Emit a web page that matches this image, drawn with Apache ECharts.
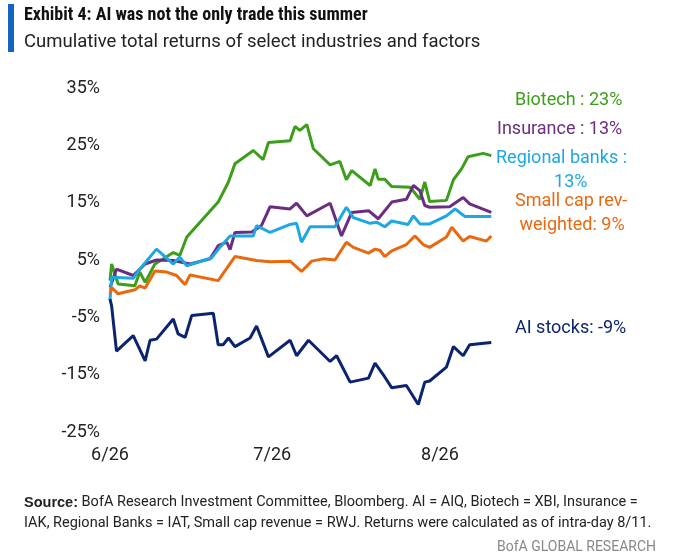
<!DOCTYPE html>
<html lang="en">
<head>
<meta charset="UTF-8">
<title>Exhibit 4</title>
<style>
  body { margin: 0; background: #fff; }
  #container { width: 682px; height: 556px; }
</style>
</head>
<body>
<div id="container"></div>
<script src="https://cdn.jsdelivr.net/npm/echarts@6/dist/echarts.min.js"></script>
<script>
    // x = days since 6/26
    var xTicks = [0, 30, 61];
    var xTickLabels = ['6/26', '7/26', '8/26'];

    var biotech = [[0,1.4],[0.3,4.3],[1.5,0.8],[4.6,0.5],[5.5,2.9],[6.5,1.1],[8.3,4.3],[11.7,6.3],[12.9,5.8],[14.2,9.0],[20.0,15.1],[21.9,18.6],[23.1,21.8],[26.5,24.1],[28.3,22.5],[29.3,25.5],[33.3,25.8],[34.2,28.3],[35.1,27.6],[36.4,28.6],[37.6,24.4],[40.7,21.6],[42.5,22.2],[43.7,19.0],[44.7,20.6],[48.1,18.0],[49.0,20.9],[49.6,19.1],[50.8,19.1],[52.1,17.8],[55.5,17.7],[57.3,15.6],[58.2,18.6],[59.1,15.2],[62.2,15.4],[63.5,19.0],[65.0,20.9],[66.2,23.0],[69.0,23.6],[70.5,23.2]];
    var insurance = [[0,0.2],[1.2,3.4],[4.3,2.3],[6.5,4.3],[8.6,5.0],[11.7,4.9],[14.8,4.3],[18.5,5.2],[20.0,7.5],[21.6,8.1],[22.2,6.8],[23.1,9.8],[26.2,9.9],[28.0,11.0],[29.6,14.3],[33.3,13.9],[34.5,14.9],[36.4,12.7],[40.7,14.9],[42.8,9.2],[44.7,13.3],[47.8,13.6],[49.6,12.2],[52.1,15.1],[54.8,15.6],[56.1,18.0],[57.3,17.1],[58.2,14.5],[59.1,14.2],[62.8,14.3],[65.3,15.9],[66.5,14.8],[70.5,13.3]];
    var regionalBanks = [[0,-2.0],[0.3,2.0],[4.3,1.8],[5.5,3.4],[8.6,6.9],[11.7,4.3],[12.9,5.5],[14.2,4.0],[18.8,5.4],[20.3,7.2],[22.2,9.2],[26.5,9.2],[27.1,11.0],[29.6,9.8],[33.3,11.2],[34.5,11.4],[35.4,8.1],[37.0,10.8],[41.6,10.8],[43.7,14.2],[45.0,12.4],[48.1,11.4],[49.3,11.6],[50.8,10.8],[52.1,11.8],[55.1,11.2],[56.1,12.7],[57.3,11.3],[59.1,11.3],[62.2,12.7],[63.8,13.9],[65.6,12.6],[70.5,12.6]];
    var smallCap = [[0,-0.9],[0.3,0.2],[1.5,-0.9],[4.6,-0.2],[5.5,0.5],[6.5,0.1],[8.3,3.1],[10.5,2.9],[12.3,2.3],[13.9,0.7],[14.8,2.4],[20.0,1.4],[23.1,5.6],[27.1,4.9],[29.6,4.7],[33.3,4.8],[35.4,3.0],[37.3,4.8],[39.4,5.2],[41.6,5.0],[43.7,8.1],[45.0,7.2],[47.8,6.2],[49.0,6.9],[49.9,6.7],[50.8,5.6],[52.1,6.6],[54.8,7.7],[56.4,9.2],[57.9,7.7],[59.1,7.2],[62.2,9.0],[63.2,10.7],[65.3,8.3],[66.5,9.1],[69.6,8.3],[70.5,9.2]];
    var aiStocks = [[0,-1.8],[0.3,-3.0],[1.2,-10.9],[4.3,-8.2],[6.5,-12.6],[7.4,-9.0],[8.6,-8.8],[11.7,-5.3],[12.6,-7.9],[13.9,-8.5],[15.1,-4.7],[19.1,-4.3],[20.0,-9.8],[20.9,-9.8],[21.9,-8.6],[23.1,-10.1],[25.9,-8.6],[27.1,-6.5],[29.3,-11.9],[33.3,-9.0],[34.5,-11.7],[36.7,-9.0],[40.7,-12.7],[41.9,-11.7],[44.4,-16.3],[47.8,-15.6],[49.0,-13.0],[50.8,-15.4],[52.1,-17.3],[54.8,-16.9],[57.0,-20.2],[58.2,-16.3],[59.1,-16.1],[62.2,-13.7],[63.5,-10.1],[65.3,-11.7],[66.5,-9.8],[70.5,-9.4]];

    var ec = echarts.init(document.querySelector('#container'));

    function line(name, data, color) {
        return { name: name, type: 'line', data: data, showSymbol: false,
                 lineStyle: { width: 3, color: color }, itemStyle: { color: color } };
    }
    function label(x, y, lines, color) {
        return { type: 'text', left: x, top: y,
                 style: { text: lines, fill: color, font: '18px "Roboto", sans-serif', lineHeight: 24 } };
    }

    var option = {
        backgroundColor: '#fff',
        animation: false,
        grid: { left: 110, right: 188, top: 88, bottom: 124 },
        xAxis: {
            type: 'value', min: 0, max: 71,
            axisLine: { show: false }, axisTick: { show: false }, splitLine: { show: false },
            axisLabel: {
                customValues: xTicks, margin: 14, color: '#222', fontSize: 18, fontFamily: 'Roboto',
                formatter: function (v) { return xTickLabels[xTicks.indexOf(v)]; }
            }
        },
        yAxis: {
            type: 'value', min: -25, max: 35, interval: 10,
            axisLine: { show: false }, axisTick: { show: false }, splitLine: { show: false },
            axisLabel: { formatter: '{value}%', margin: 10, color: '#222', fontSize: 18, fontFamily: 'Roboto' }
        },
        series: [
            line('Biotech', biotech, '#3d9e1c'),
            line('Insurance', insurance, '#6b2d80'),
            line('Regional banks', regionalBanks, '#1ea7e1'),
            line('Small cap rev-weighted', smallCap, '#e8690f'),
            line('AI stocks', aiStocks, '#0c2470')
        ],
        graphic: [
            { type: 'rect', shape: { x: 8, y: 4, width: 6, height: 48 }, style: { fill: '#1565c0' } },
            { type: 'text', left: 24, top: 6, style: { text: 'Exhibit 4: AI was not the only trade this summer', fill: '#111', font: 'bold 18px "Roboto Condensed", "Roboto", sans-serif' } },
            { type: 'text', left: 24, top: 33, style: { text: 'Cumulative total returns of select industries and factors', fill: '#222', font: '18.5px "Roboto", sans-serif' } },
            label(515, 88, 'Biotech : 23%', '#3d9e1c'),
            label(497, 117, 'Insurance : 13%', '#6b2d80'),
            label(496, 146, 'Regional banks :\n             13%', '#1ea7e1'),
            label(515, 189, 'Small cap rev-\n weighted: 9%', '#e8690f'),
            label(515, 316, 'AI stocks: -9%', '#0c2470'),
            { type: 'text', left: 24, top: 492, style: { text: '{b|Source:} BofA Research Investment Committee, Bloomberg. AI = AIQ, Biotech = XBI, Insurance =\nIAK, Regional Banks = IAT, Small cap revenue = RWJ. Returns were calculated as of intra-day 8/11.',
                fill: '#222', font: '14.5px "Roboto", sans-serif', lineHeight: 21, rich: { b: { fontWeight: 'bold', fontSize: 14.5, fill: '#222' } } } },
            { type: 'text', right: 26, top: 540, style: { text: 'BofA GLOBAL RESEARCH', fill: '#888', font: '14px "Roboto", sans-serif' } }
        ]
    };
    ec.setOption(option);
</script>
</body>
</html>
